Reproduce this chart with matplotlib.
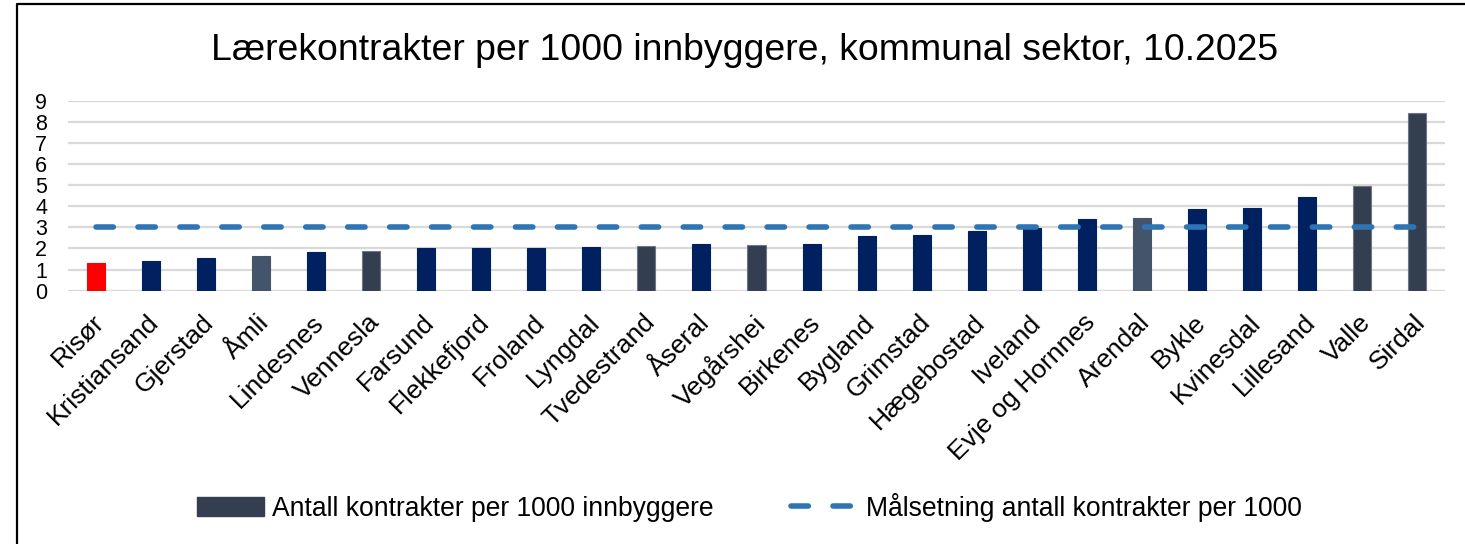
import matplotlib
matplotlib.use("Agg")
import matplotlib.pyplot as plt
import matplotlib.transforms as mtransforms
from matplotlib.lines import Line2D

plt.rcParams['font.family'] = ['Liberation Sans', 'DejaVu Sans']
plt.rcParams['lines.scale_dashes'] = False

title = "Lærekontrakter per 1000 innbyggere, kommunal sektor, 10.2025"
kommuner = ["Risør", "Kristiansand", "Gjerstad", "Åmli", "Lindesnes", "Vennesla",
            "Farsund", "Flekkefjord", "Froland", "Lyngdal", "Tvedestrand", "Åseral",
            "Vegårshei", "Birkenes", "Bygland", "Grimstad", "Hægebostad", "Iveland",
            "Evje og Hornnes", "Arendal", "Bykle", "Kvinesdal", "Lillesand", "Valle", "Sirdal"]
kontrakter = [1.33, 1.43, 1.57, 1.66, 1.81, 1.89, 2.00, 2.00, 2.04, 2.09, 2.14, 2.19,
              2.16, 2.19, 2.57, 2.62, 2.81, 2.97, 3.38, 3.42, 3.85, 3.90, 4.42, 4.95, 8.40]
maal = 3.0
yticks = list(range(0, 10))
bar_label = "Antall kontrakter per 1000 innbyggere"
line_label = "Målsetning antall kontrakter per 1000"

NAVY = "#002060"
DARK = "#333F50"
SLATE = "#44546A"
RED = "#FF0000"
colors = [RED, NAVY, NAVY, SLATE, NAVY, DARK, NAVY, NAVY, NAVY, NAVY, DARK, NAVY,
          DARK, NAVY, NAVY, NAVY, NAVY, NAVY, NAVY, SLATE, NAVY, NAVY, NAVY, DARK, DARK]
edges = ["#6E7785" if c == DARK else c for c in colors]

W, H = 1465, 544
fig = plt.figure(figsize=(W / 100, H / 100), dpi=100)
ax = fig.add_axes([68 / W, 1 - 290.7 / H, (1445 - 68) / W, (290.7 - 100.7) / H])

x = list(range(len(kommuner)))
ax.bar(x, kontrakter, width=0.327, color=colors, edgecolor=edges, linewidth=0.8, zorder=2)
ln, = ax.plot([x[0], x[-1]], [maal, maal], color="#2E75B6", lw=4.0,
              dash_capstyle='round', zorder=3)
ln.set_dashes((12.5, 17.7))

ax.set_xlim(-0.5, len(kommuner) - 0.5)
ax.set_ylim(0, 9)
ax.set_yticks(yticks)
ax.set_yticklabels([str(v) for v in yticks], fontsize=15.5)
ax.yaxis.grid(True, color="#D9D9D9", lw=1.6, zorder=0)
ax.set_axisbelow(True)
for s in ax.spines.values():
    s.set_visible(False)
ax.tick_params(axis='y', length=0, pad=15)
ax.tick_params(axis='x', length=0, pad=14)
ax.set_xticks(x)
ax.set_xticklabels(kommuner, rotation=45, ha='right', va='top',
                   rotation_mode='anchor', fontsize=19)
off = mtransforms.ScaledTranslation(-4 / 100, 0, fig.dpi_scale_trans)
for lbl in ax.get_xticklabels():
    lbl.set_transform(lbl.get_transform() + off)

fig.text(744.5 / W, 1 - 60 / H, title, fontsize=26.9, ha='center', va='baseline')

handles = [plt.Rectangle((0, 0), 1, 1, color=DARK),
           Line2D([0], [0], color="#2E75B6", lw=4.0, dash_capstyle='round',
                  dashes=(12.5, 17.7))]
fig.legend(handles, [bar_label, line_label], loc='center', ncol=2,
           bbox_to_anchor=(749.5 / W, 1 - 507 / H), frameon=False, fontsize=19.1,
           handlelength=2.55, handleheight=0.75, handletextpad=0.3, columnspacing=2.9)

# outer frame (left and top edges visible)
fig.add_artist(Line2D([17 / W, 17 / W, 1.0], [0.0, 1 - 4 / H, 1 - 4 / H],
                      transform=fig.transFigure, color="black", lw=1.6))

fig.savefig("out.png", dpi=100)
